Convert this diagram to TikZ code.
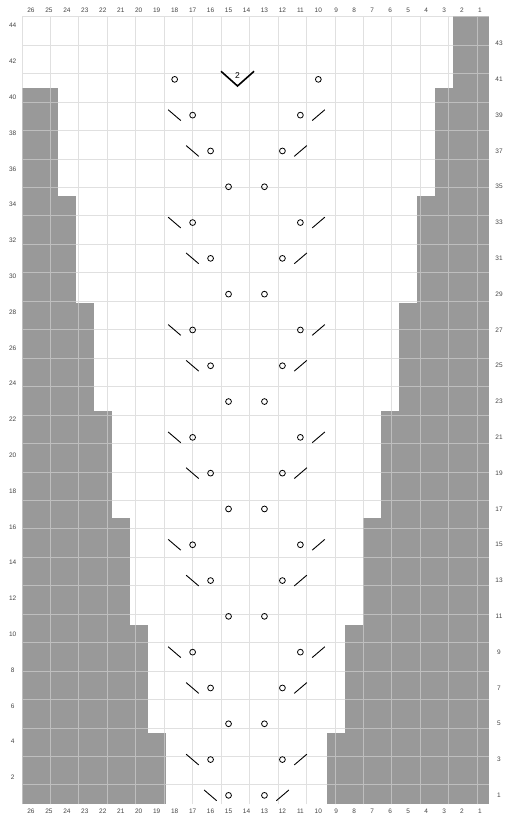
\documentclass[tikz,border=0pt]{standalone}
\usepackage{fontspec}
\setmainfont{Liberation Sans}
\definecolor{cellgray}{HTML}{999999}
\definecolor{gridline}{HTML}{E0E0E0}
\definecolor{gridongray}{HTML}{BEBEBE}
\definecolor{labelgray}{HTML}{444444}
\tikzset{
  lbl/.style={font=\fontsize{6.5}{7}\selectfont, text=labelgray, inner sep=0pt},
  yo/.style={draw=black, line width=0.8pt},
  dec/.style={draw=black, line width=0.9pt},
  ddec/.style={draw=black, line width=1.6pt},
  shade/.style={fill=cellgray, draw=none},
  gridwhite/.style={draw=gridline, line width=0.9pt},
  gridgray/.style={draw=gridongray, line width=0.9pt}
}
\newcommand\shaderegion[4]{%
  \fill[shade] (#1,#2) rectangle (#3,#4);
  \draw[gridgray] (#1,#2) grid (#3,#4);}
\begin{document}
\begin{tikzpicture}[x=1pt,y=1pt]
\useasboundingbox (0,0) rectangle (504,-823);
\begin{scope}[shift={(22pt,-16.7pt)}, x=17.96pt, y=-17.9pt]
  % grid on white
  \draw[gridwhite] (0,0) grid (26,44);
  % shaded regions: left side
  \shaderegion{0}{40}{8}{44}   % rows 1-4
  \shaderegion{0}{34}{7}{40}   % rows 5-10
  \shaderegion{0}{28}{6}{34}   % rows 11-16
  \shaderegion{0}{22}{5}{28}   % rows 17-22
  \shaderegion{0}{16}{4}{22}   % rows 23-28
  \shaderegion{0}{10}{3}{16}   % rows 29-34
  \shaderegion{0}{4}{2}{10}    % rows 35-40
  % right side
  \shaderegion{17}{40}{26}{44}
  \shaderegion{18}{34}{26}{40}
  \shaderegion{19}{28}{26}{34}
  \shaderegion{20}{22}{26}{28}
  \shaderegion{21}{16}{26}{22}
  \shaderegion{22}{10}{26}{16}
  \shaderegion{23}{4}{26}{10}
  \shaderegion{24}{0}{26}{4}
  % column labels
  \foreach \c in {1,...,26} {
    \node[lbl] (top\c) at ({26-\c+0.5},-0.37) {\c};
    \node[lbl] (bot\c) at ({26-\c+0.5},44.37) {\c};
  }
  % row labels
  \foreach \r in {2,4,...,44} {
    \node[lbl] (left\r) at (-0.52,{44-\r+0.5}) {\r};
  }
  \foreach \r in {1,3,...,43} {
    \node[lbl] (right\r) at (26.56,{44-\r+0.5}) {\r};
  }
  % symbols
  \def\yarn#1#2{\draw[yo] ({26-#1+0.5},{44-#2+0.5}) circle[radius=2.9pt];}
  \def\ssk#1#2{\draw[dec] ({26-#1+0.5-0.36},{44-#2+0.5-0.3}) -- ({26-#1+0.5+0.34},{44-#2+0.5+0.3});}
  \def\ktog#1#2{\draw[dec] ({26-#1+0.5-0.34},{44-#2+0.5+0.3}) -- ({26-#1+0.5+0.36},{44-#2+0.5-0.3});}
  % row 41
  \yarn{18}{41}
  \yarn{10}{41}
  \draw[ddec] (11.08,3.05) -- (12,3.87) -- (12.92,3.05);
  \node[font=\fontsize{8.5}{9}\selectfont, inner sep=0pt] (two) at (12,3.28) {2};
  % repeating motif
  \foreach \b in {0,6,12,18,24,30} {
    \pgfmathtruncatemacro{\ra}{39-\b}
    \pgfmathtruncatemacro{\rb}{37-\b}
    \pgfmathtruncatemacro{\rc}{35-\b}
    \ssk{18}{\ra}\yarn{17}{\ra}\yarn{11}{\ra}\ktog{10}{\ra}
    \ssk{17}{\rb}\yarn{16}{\rb}\yarn{12}{\rb}\ktog{11}{\rb}
    \yarn{15}{\rc}\yarn{13}{\rc}
  }
  % row 3
  \ssk{17}{3}\yarn{16}{3}\yarn{12}{3}\ktog{11}{3}
  % row 1
  \ssk{16}{1}\yarn{15}{1}\yarn{13}{1}\ktog{12}{1}
\end{scope}
\end{tikzpicture}
\end{document}
